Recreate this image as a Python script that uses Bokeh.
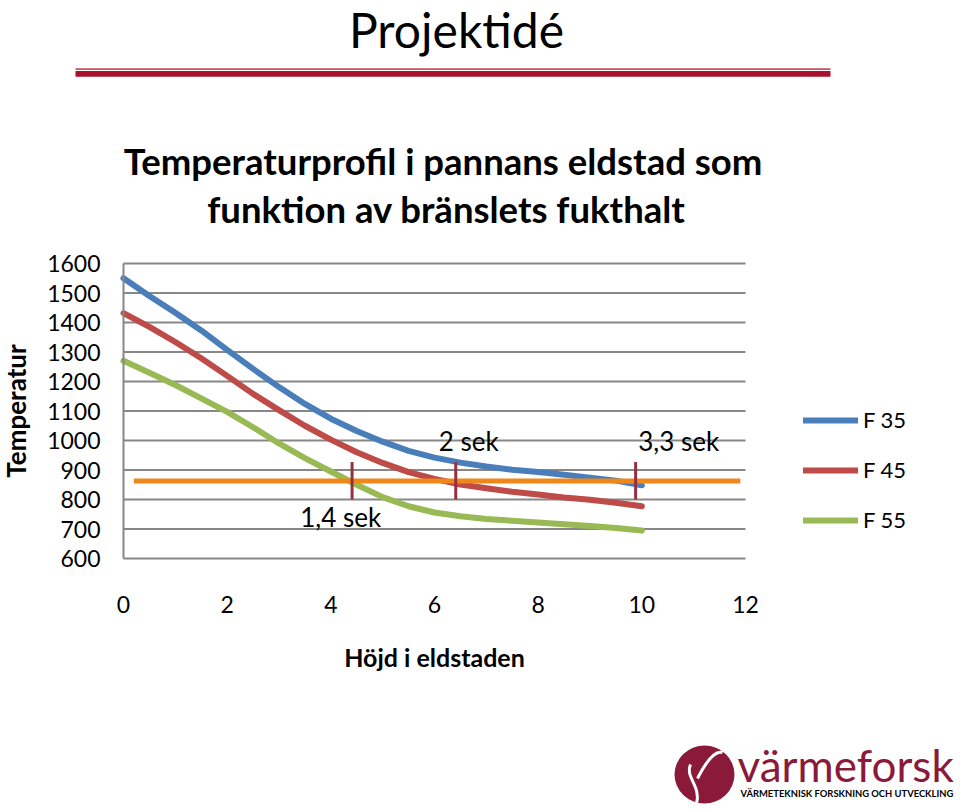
from bokeh.plotting import figure
from bokeh.models import Range1d, FixedTicker, Legend, LegendItem
from bokeh.embed import file_html
from bokeh.resources import INLINE
from bokeh.core.properties import value

# ---- data ----
height_x = [0, 0.5, 1, 1.5, 2, 2.5, 3, 3.5, 4, 4.5, 5, 5.5, 6, 6.5, 7, 7.5, 8, 8.5, 9, 9.5, 10]
f35 = [1550, 1490, 1433, 1373, 1307, 1243, 1181, 1124, 1074, 1032, 996, 965, 942, 925, 912, 901, 893, 884, 874, 864, 848]
f45 = [1432, 1385, 1334, 1279, 1219, 1158, 1103, 1050, 1003, 960, 924, 893, 870, 851, 838, 826, 817, 807, 799, 789, 777]
f55 = [1270, 1230, 1188, 1143, 1097, 1045, 990, 940, 895, 850, 808, 777, 756, 743, 734, 728, 722, 716, 710, 703, 695]
series_names = ["F 35", "F 45", "F 55"]

limit_x = [0.2, 11.9]
limit_temp = [863, 863]

marker_x = [4.41, 6.41, 9.88]
marker_low = [800, 800, 800]
marker_high = [927, 927, 927]

time_labels = ["1,4 sek", "2 sek", "3,3 sek"]
time_label_x = [4.19, 6.66, 10.71]
time_label_y = [740, 998, 998]

x_ticks = [0, 2, 4, 6, 8, 10, 12]
y_ticks = [600, 700, 800, 900, 1000, 1100, 1200, 1300, 1400, 1500, 1600]

slide_title = "Projektidé"
chart_title_1 = "Temperaturprofil i  pannans eldstad som"
chart_title_2 = "funktion av bränslets fukthalt"
x_title = "Höjd i eldstaden"
y_title = "Temperatur"
logo_name = "värmeforsk"
logo_sub = "VÄRMETEKNISK FORSKNING OCH UTVECKLING"

FONT = "Lato"
MAROON = "#8B1A3A"

# ---- canvas geometry: the frame fills the whole canvas; axes are pinned at x=0 / y=600 ----
W, H = 958, 806
X0_PX, X12_PX = 123.0, 745.0      # page pixels of x=0 and x=12
Y1600_PX, Y600_PX = 263.0, 558.0  # page pixels of y=1600 and y=600
sx = (X12_PX - X0_PX) / 12.0
sy = (Y600_PX - Y1600_PX) / 1000.0


def dx(px):
    return (px - X0_PX) / sx


def dy(py):
    return 1600 - (py - Y1600_PX) / sy


p = figure(width=W, height=H, x_range=Range1d(dx(0), dx(W)), y_range=Range1d(dy(H), dy(0)),
           output_backend="svg", toolbar_location=None, min_border=0)
p.outline_line_color = None
p.background_fill_color = "white"
p.border_fill_color = "white"
p.grid.visible = False

p.xaxis.ticker = FixedTicker(ticks=x_ticks)
p.yaxis.ticker = FixedTicker(ticks=y_ticks)
p.xaxis.fixed_location = 600
p.yaxis.fixed_location = 0
p.xaxis.bounds = (0, 12)
p.yaxis.bounds = (600, 1600)
for ax in (p.xaxis[0], p.yaxis[0]):
    ax.major_tick_out = 0
    ax.major_tick_in = 0
    ax.minor_tick_out = 0
    ax.minor_tick_in = 0
    ax.major_label_text_font = FONT
    ax.major_label_text_font_size = "23px"
    ax.major_label_text_color = "black"
    ax.axis_label_text_font = FONT
    ax.axis_label_text_font_style = "bold"
    ax.axis_label_text_color = "black"
p.xaxis.axis_line_color = None
p.xaxis.major_label_standoff = 37
p.xaxis.axis_label = x_title
p.xaxis.axis_label_text_font_size = "25px"
p.xaxis.axis_label_standoff = 26
p.yaxis.axis_line_color = "#878787"
p.yaxis.axis_line_width = 2
p.yaxis.major_label_standoff = 23
p.yaxis.axis_label = y_title
p.yaxis.axis_label_text_font_size = "26px"
p.yaxis.axis_label_standoff = 12

# horizontal gridlines over the plotted span only
p.segment(x0=[x_ticks[0]] * len(y_ticks), y0=y_ticks, x1=[x_ticks[-1]] * len(y_ticks), y1=y_ticks,
          line_color="#878787", line_width=2)

colors = ["#4A7EBB", "#BE4B48", "#98B954"]
renderers = []
for vals, c in zip([f35, f45, f55], colors):
    r = p.line(height_x, vals, line_color=c, line_width=6, line_cap="round", line_join="round")
    renderers.append(r)

p.line(limit_x, limit_temp, line_color="#F0871A", line_width=5)
p.segment(x0=marker_x, y0=marker_low, x1=marker_x, y1=marker_high, line_color="#953040", line_width=3)
p.text(x=time_label_x, y=time_label_y, text=time_labels, text_align="center", text_baseline="middle",
       text_font=value(FONT), text_font_size="26px", text_color="black")

legend = Legend(items=[LegendItem(label=n, renderers=[r]) for n, r in zip(series_names, renderers)],
                location=(803, H - 533))
legend.background_fill_alpha = 0
legend.border_line_alpha = 0
legend.padding = 0
legend.margin = 0
legend.spacing = 23
legend.glyph_width = 55
legend.glyph_height = 20
legend.label_height = 20
legend.label_standoff = 5
legend.label_text_font = FONT
legend.label_text_font_size = "22px"
legend.label_text_color = "black"
p.add_layout(legend)

# ---- slide header ----
p.text(x=[dx(456)], y=[dy(29)], text=[slide_title], text_align="center", text_baseline="middle",
       text_font=value(FONT), text_font_size="48px", text_color="black")
p.quad(left=[dx(75)], right=[dx(830)], top=[dy(67.8)], bottom=[dy(69.4)], fill_color="#D24B60", line_color=None)
p.quad(left=[dx(75)], right=[dx(830)], top=[dy(70.5)], bottom=[dy(76.3)], fill_color="#A8102E", line_color=None)

# ---- chart title ----
p.text(x=[dx(447), dx(446)], y=[dy(160), dy(208)], text=[chart_title_1, chart_title_2], text_align="center",
       text_baseline="middle", text_font=value(FONT), text_font_style="bold", text_font_size="36.5px",
       text_color="black")

# ---- logo ----
p.ellipse(x=[dx(704)], y=[dy(774)], width=[60 / sx], height=[58 / sy], fill_color=MAROON, line_color=None)
p.bezier(x0=[dx(696), dx(697)], y0=[dy(803), dy(778)], x1=[dx(690), dx(722)], y1=[dy(764), dy(752)],
         cx0=[dx(701), dx(707)], cy0=[dy(786), dy(758)], cx1=[dx(684), dx(716)], cy1=[dy(776), dy(750)],
         line_color="white", line_width=3)
p.text(x=[dx(737)], y=[dy(764)], text=[logo_name], text_align="left", text_baseline="middle",
       text_font=value(FONT), text_font_size="44px", text_color=MAROON)
p.text(x=[dx(740)], y=[dy(793.4)], text=[logo_sub], text_align="left", text_baseline="middle",
       text_font=value(FONT), text_font_style="bold", text_font_size="9.4px", text_color="black")

open("out.html", "w").write(file_html(p, INLINE))
